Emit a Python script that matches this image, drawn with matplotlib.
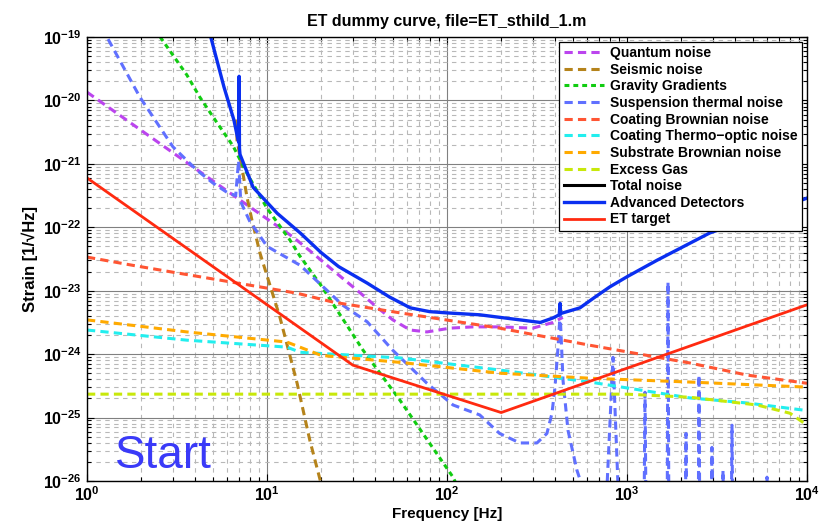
import matplotlib
matplotlib.use("Agg")
import matplotlib.pyplot as plt
import numpy as np
from matplotlib.ticker import FixedLocator, FuncFormatter, LogLocator, NullFormatter

plt.rcParams["font.family"] = ["Liberation Sans", "DejaVu Sans"]
plt.rcParams["mathtext.fontset"] = "custom"
plt.rcParams["mathtext.rm"] = "Liberation Sans:bold"
plt.rcParams["mathtext.it"] = "Liberation Sans:bold"
plt.rcParams["mathtext.bf"] = "Liberation Sans:bold"

# --- данные (f в Гц, strain в 1/sqrt(Hz)) ---
quantum_f = [1, 7.08, 13.9, 18, 23.3, 31.6, 40.8, 50, 62.5, 77.4, 104, 139, 196, 300, 388, 440]
quantum_h = [1.35e-20, 2.69e-22, 7.08e-23, 3.89e-23, 2.09e-23, 1.02e-23, 5.5e-24, 3.47e-24,
             2.4e-24, 2.24e-24, 2.57e-24, 2.69e-24, 2.69e-24, 2.57e-24, 3.16e-24, 3.8e-24]

seismic_f = [6.78, 6.81, 7.25, 7.74, 8.25, 9.15, 11.8, 14.7, 17.3, 19.8, 21]
seismic_h = [5.0e-21, 2.4e-21, 8.9e-22, 3.0e-22, 1.29e-22, 3.89e-23, 3.8e-24, 3.47e-25,
             4.37e-26, 1.0e-26, 5e-27]

gravity_f = [2.55, 3.59, 4.24, 5.27, 6.48, 7.74, 10, 13.4, 15.2, 20, 34.2, 54.9, 108, 115]
gravity_h = [1.0e-19, 2.51e-20, 1.12e-20, 4.47e-21, 1.91e-21, 7.08e-22, 2.0e-22, 6.31e-23,
             3.55e-23, 1.2e-23, 1.15e-24, 1.86e-25, 1.15e-26, 7.9e-27]

susp_f = [1.2, 1.29, 1.97, 3.0, 4.08, 5.0, 6.0, 6.7, 6.95, 7.15, 8.0, 10, 15.3, 26.4, 36, 50,
          77.4, 108, 152, 196, 254, 316, 359, 383, 398, 414, 425, 441, 470, 527, 562, 620,
          774, 836, 892,
          1240, 1259, 1280, 1670, 1690, 1710, 2105, 2128, 2150, 2485, 2512, 2540,
          2935, 2965, 2995, 3380, 3415, 3450, 3790, 3831, 3870, 5930, 5995, 6060]
susp_h = [1.41e-19, 1.0e-19, 1.12e-20, 1.86e-21, 7.94e-22, 5.01e-22, 3.55e-22, 3.16e-22,
          1.12e-21, 2.51e-22, 1.26e-22, 5.01e-23, 2.51e-23, 5.89e-24, 3.24e-24, 1.15e-24,
          3.47e-25, 1.58e-25, 1.1e-25, 5.62e-26, 3.98e-26, 3.98e-26, 5.62e-26, 1.17e-25,
          3.02e-25, 1.29e-24, 4.47e-24, 3.89e-25, 6.31e-26, 1.48e-26, 8.5e-27, 1e-27,
          8e-27, 8.9e-25, 8e-27,
          1e-27, 2.51e-25, 1e-27, 1e-27, 1.38e-23, 1e-27, 1e-27, 5.62e-26, 1e-27,
          1e-27, 4.68e-25, 1e-27, 1e-27, 3.39e-26, 1e-27, 1e-27, 1.48e-26, 1e-27,
          1e-27, 7.59e-26, 1e-27, 1e-27, 1.15e-26, 1e-27]

coat_br_f = [1, 1.8, 3.16, 10, 14.7, 23.3, 55, 196, 623, 2240, 4640, 10000]
coat_br_h = [3.39e-23, 2.51e-23, 1.91e-23, 1.1e-23, 9.12e-24, 6.61e-24, 4.47e-24, 2.57e-24,
             1.38e-24, 7.24e-25, 4.68e-25, 3.47e-25]

coat_to_f = [1, 3.59, 12.9, 15.3, 55, 196, 623, 2240, 4640, 10000]
coat_to_h = [2.4e-24, 1.66e-24, 1.29e-24, 1.07e-24, 8.71e-25, 5.62e-25, 3.63e-25, 2.04e-25,
             1.7e-25, 1.29e-25]

subst_f = [1, 3.59, 12.9, 20, 55, 196, 623, 2240, 10000]
subst_h = [3.47e-24, 2.24e-24, 1.55e-24, 9.55e-25, 7.41e-25, 5.01e-25, 4.17e-25, 3.63e-25,
           3.02e-25]

gas_f = [1, 1000, 2240, 5270, 8050, 10000]
gas_h = [2.34e-25, 2.34e-25, 2.09e-25, 1.58e-25, 1.17e-25, 7.59e-26]

adv_f = [4.8, 5.77, 6.55, 6.9, 6.97, 7.0, 7.03, 7.08, 8.37, 11.4, 15.3, 20, 25, 36, 48,
         62.5, 80, 100, 152, 254, 330, 388, 420, 425, 428, 548, 650, 803, 1000, 1468,
         2880, 10000]
adv_h = [1.17e-19, 1.62e-20, 4.9e-21, 2.4e-21, 2.19e-21, 2.4e-20, 1.78e-21, 1.41e-21,
         4.27e-22, 1.66e-22, 8.13e-23, 3.98e-23, 2.4e-23, 1.32e-23, 7.94e-24,
         5.37e-24, 4.68e-24, 4.47e-24, 4.17e-24, 3.47e-24, 3.16e-24, 3.72e-24, 4.17e-24,
         6.31e-24, 4.37e-24, 5.37e-24, 7.6e-24, 1.15e-23, 1.66e-23, 3.02e-23,
         8.13e-23, 2.88e-22]

et_f = [1, 30, 200, 10000]
et_h = [6.0e-22, 6.7e-25, 1.2e-25, 6.0e-24]

# --- рисуем ---
fig = plt.figure(figsize=(8.22, 5.32), dpi=100)
ax = fig.add_axes([87 / 822, 51 / 532, 720 / 822, 444 / 532])

dash_lw = 2.2
dash = (2.7, 1.7)
ax.plot(quantum_f, quantum_h, color="#bb44ee", lw=dash_lw, dashes=dash, label="Quantum noise")
ax.plot(seismic_f, seismic_h, color="#b5831b", lw=dash_lw, dashes=dash, label="Seismic noise")
ax.plot(gravity_f, gravity_h, color="#11cc11", lw=dash_lw, dashes=(1.6, 1.3), label="Gravity Gradients")
ax.plot(susp_f, susp_h, color="#6070ff", lw=dash_lw, dashes=dash, label="Suspension thermal noise")
ax.plot(coat_br_f, coat_br_h, color="#ff5533", lw=dash_lw, dashes=dash, label="Coating Brownian noise")
ax.plot(coat_to_f, coat_to_h, color="#22eeee", lw=dash_lw, dashes=dash, label="Coating Thermo\u2212optic noise")
ax.plot(subst_f, subst_h, color="#ffaa00", lw=dash_lw, dashes=dash, label="Substrate Brownian noise")
ax.plot(gas_f, gas_h, color="#c8e80a", lw=dash_lw, dashes=dash, label="Excess Gas")
ax.plot([], [], color="black", lw=2.2, label="Total noise")
ax.plot(adv_f, adv_h, color="#0a2ff0", lw=2.4, label="Advanced Detectors")
ax.plot(et_f, et_h, color="#ff2a10", lw=2.0, label="ET target")

ax.set_xscale("log")
ax.set_yscale("log")
ax.set_xlim(1, 1e4)
ax.set_ylim(1e-26, 1e-19)

fmt = FuncFormatter(lambda v, _: r"$\mathrm{10^{%d}}$" % round(np.log10(v)))
ax.xaxis.set_major_locator(FixedLocator([1, 1e1, 1e2, 1e3, 1e4]))
ax.yaxis.set_major_locator(FixedLocator([10.0 ** k for k in range(-26, -18)]))
ax.xaxis.set_major_formatter(fmt)
ax.yaxis.set_major_formatter(fmt)
ax.xaxis.set_minor_locator(LogLocator(base=10, subs=np.arange(2, 10), numticks=20))
ax.yaxis.set_minor_locator(LogLocator(base=10, subs=np.arange(2, 10), numticks=20))
ax.xaxis.set_minor_formatter(NullFormatter())
ax.yaxis.set_minor_formatter(NullFormatter())
ax.tick_params(which="both", direction="in", top=True, right=True, width=0.8)
ax.tick_params(which="major", length=5, labelsize=11.5)
ax.tick_params(which="minor", length=3)
ax.tick_params(axis="x", pad=3)
ax.tick_params(axis="y", pad=4)

ax.grid(which="major", color="0.5", lw=0.8, ls="-")
ax.grid(which="minor", color="0.72", lw=0.8, ls=(0, (4, 4)))
ax.set_axisbelow(True)
for s in ax.spines.values():
    s.set_linewidth(1.0)

ax.set_title("ET dummy curve, file=ET_sthild_1.m", fontsize=11.5, fontweight="bold", pad=8)
ax.set_xlabel("Frequency [Hz]", fontsize=11, fontweight="bold", labelpad=2)
ax.set_ylabel("Strain [1/\u221aHz]", fontsize=12, fontweight="bold", labelpad=3)

leg = ax.legend(loc="upper right", bbox_to_anchor=(0.993, 0.989), borderaxespad=0,
                prop={"weight": "bold", "size": 10}, handlelength=2.9,
                handletextpad=0.45, labelspacing=0.19, borderpad=0.3,
                fancybox=False, framealpha=1, edgecolor="black")
leg.get_frame().set_linewidth(0.9)

ax.text(0.039, 0.029, "Start", transform=ax.transAxes, fontsize=33, color="#3a3af8",
        ha="left", va="baseline")

fig.savefig("out.png", dpi=100)
